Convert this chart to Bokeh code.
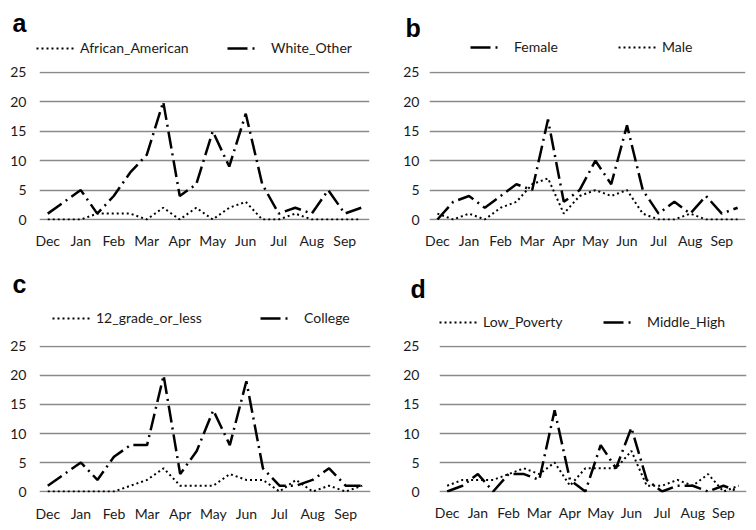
import numpy as np
from bokeh.plotting import figure
from bokeh.layouts import column, row
from bokeh.models import Range1d, FixedTicker, Legend, LegendItem, Label, ColumnDataSource
from bokeh.embed import file_html
from bokeh.resources import INLINE

# ---------------- data ----------------
month_labels = ["Dec", "Jan", "Feb", "Mar", "Apr", "May", "Jun", "Jul", "Aug", "Sep"]
x_index = list(range(20))            # two observations per month
tick_positions = list(range(0, 20, 2))
y_ticks = [0, 5, 10, 15, 20, 25]

african_american = [0, 0, 0, 1, 1, 1, 0, 2, 0, 2, 0, 2, 3, 0, 0, 1, 0, 0, 0, 0]
white_other      = [1, 3, 5, 1, 4, 8, 11, 20, 4, 6, 15, 9, 18, 6, 1, 2, 1, 5, 1, 2]

female = [0, 3, 4, 2, 4, 6, 5, 17, 3, 5, 10, 6, 16, 5, 1, 3, 1, 4, 1, 2]
male   = [1, 0, 1, 0, 2, 3, 6, 7, 1, 4, 5, 4, 5, 1, 0, 0, 1, 0, 0, 0]

grade12_or_less = [0, 0, 0, 0, 0, 1, 2, 4, 1, 1, 1, 3, 2, 2, 0, 2, 0, 1, 0, 1]
college         = [1, 3, 5, 2, 6, 8, 8, 20, 3, 7, 14, 8, 19, 4, 1, 1, 2, 4, 1, 1]

low_poverty = [1, 2, 2, 2, 3, 4, 3, 5, 1, 4, 4, 4, 7, 1, 1, 2, 1, 3, 0, 1]
middle_high = [0, 1, 3, 0, 3, 3, 2, 14, 2, 0, 8, 4, 11, 2, 0, 1, 1, 0, 1, 0]

# ---------------- style ----------------
FONT = "Lato"
TXT = "#1a1a1a"
GRID = "#8a8a8a"
DOT = "2 3"
DASHDOT = "17 5 2 5"
DASHDOT_LEG = "20 5 2 40"


def make_panel(height, left, right, top, bottom, y_standoff, x_standoff):
    p = figure(width=378, height=height, output_backend="svg", toolbar_location=None,
               x_range=Range1d(-0.5, 19.5), y_range=Range1d(-0.17, 25.17),
               min_border_left=left, min_border_right=right,
               min_border_top=top, min_border_bottom=bottom)
    p.outline_line_color = None
    p.background_fill_color = "white"
    p.border_fill_color = "white"
    p.xgrid.visible = False
    p.ygrid.ticker = FixedTicker(ticks=y_ticks)
    p.ygrid.grid_line_color = GRID
    p.ygrid.grid_line_width = 1.5
    p.xaxis.ticker = FixedTicker(ticks=tick_positions)
    p.xaxis.major_label_overrides = {i: m for i, m in zip(tick_positions, month_labels)}
    p.yaxis.ticker = FixedTicker(ticks=y_ticks)
    for ax in p.axis:
        ax.axis_line_color = None
        ax.major_tick_line_color = None
        ax.minor_tick_line_color = None
        ax.major_tick_out = 0
        ax.major_tick_in = 0
        ax.major_label_text_font = FONT
        ax.major_label_text_font_size = "14px"
        ax.major_label_text_color = TXT
    p.yaxis.major_label_standoff = y_standoff
    p.xaxis.major_label_standoff = x_standoff
    return p


def make_header(height):
    h = figure(width=378, height=height, output_backend="svg", toolbar_location=None,
               x_range=Range1d(0, 1), y_range=Range1d(0, 1),
               x_axis_type=None, y_axis_type=None,
               min_border_left=0, min_border_right=0, min_border_top=0, min_border_bottom=0)
    h.outline_line_color = None
    h.grid.visible = False
    h.background_fill_color = "white"
    h.border_fill_color = "white"
    return h


def add_series(p, values, style):
    src = ColumnDataSource(dict(x=x_index, y=values))
    dash = DOT if style == "dot" else DASHDOT
    width = 2 if style == "dot" else 2.5
    return p.line("x", "y", source=src, line_color="black", line_width=width, line_dash=dash)


def add_legend(h, style, label, x, y):
    # legend-only renderer: one missing (NaN) point, so nothing is drawn in the frame
    src = ColumnDataSource(dict(x=np.array([np.nan]), y=np.array([np.nan])))
    if style == "dot":
        r = h.line("x", "y", source=src, line_color="black", line_width=2, line_dash=DOT)
    else:
        r = h.line("x", "y", source=src, line_color="black", line_width=2.5, line_dash=DASHDOT_LEG)
    leg = Legend(items=[LegendItem(label=label, renderers=[r])], location=(x, y),
                 orientation="horizontal", padding=0, margin=0, border_line_color=None,
                 background_fill_alpha=0, glyph_width=40, glyph_height=16, label_height=16,
                 label_standoff=4, label_text_font=FONT, label_text_font_size="14px",
                 label_text_color=TXT)
    h.add_layout(leg)


def add_letter(h, letter, x, y):
    h.add_layout(Label(x=x, y=y, x_units="screen", y_units="screen", text=letter,
                       text_font="Liberation Sans", text_font_style="bold",
                       text_font_size="25px", text_color="black",
                       text_baseline="alphabetic"))


# panel a
ha = make_header(61)
add_letter(ha, "a", 12, 39)
add_legend(ha, "dot", "African_American", 36, 5)
add_legend(ha, "dashdot", "White_Other", 227, 5)
pa = make_panel(204, 39, 9, 10, 45, 13, 11)
add_series(pa, african_american, "dot")
add_series(pa, white_other, "dashdot")

# panel b
hb = make_header(61)
add_letter(hb, "b", 27, 34)
add_legend(hb, "dashdot", "Female", 92, 6)
add_legend(hb, "dot", "Male", 240, 6)
pb = make_panel(204, 51, 11, 10, 45, 10, 11)
add_series(pb, female, "dashdot")
add_series(pb, male, "dot")

# panel c
hc = make_header(68)
add_letter(hc, "c", 12, 50)
add_legend(hc, "dot", "12_grade_or_less", 52, 7)
add_legend(hc, "dashdot", "College", 260, 7)
pc = make_panel(197, 39, 8, 10, 38, 13, 12)
add_series(pc, grade12_or_less, "dot")
add_series(pc, college, "dashdot")

# panel d
hd = make_header(68)
add_letter(hd, "d", 32, 45)
add_legend(hd, "dot", "Low_Poverty", 61, 3)
add_legend(hd, "dashdot", "Middle_High", 225, 3)
pd_ = make_panel(197, 61, 10, 12, 36, 20, 11)
add_series(pd_, low_poverty, "dot")
add_series(pd_, middle_high, "dashdot")

layout = column(row(ha, hb), row(pa, pb), row(hc, hd), row(pc, pd_))

open("out.html", "w").write(file_html(layout, INLINE))
